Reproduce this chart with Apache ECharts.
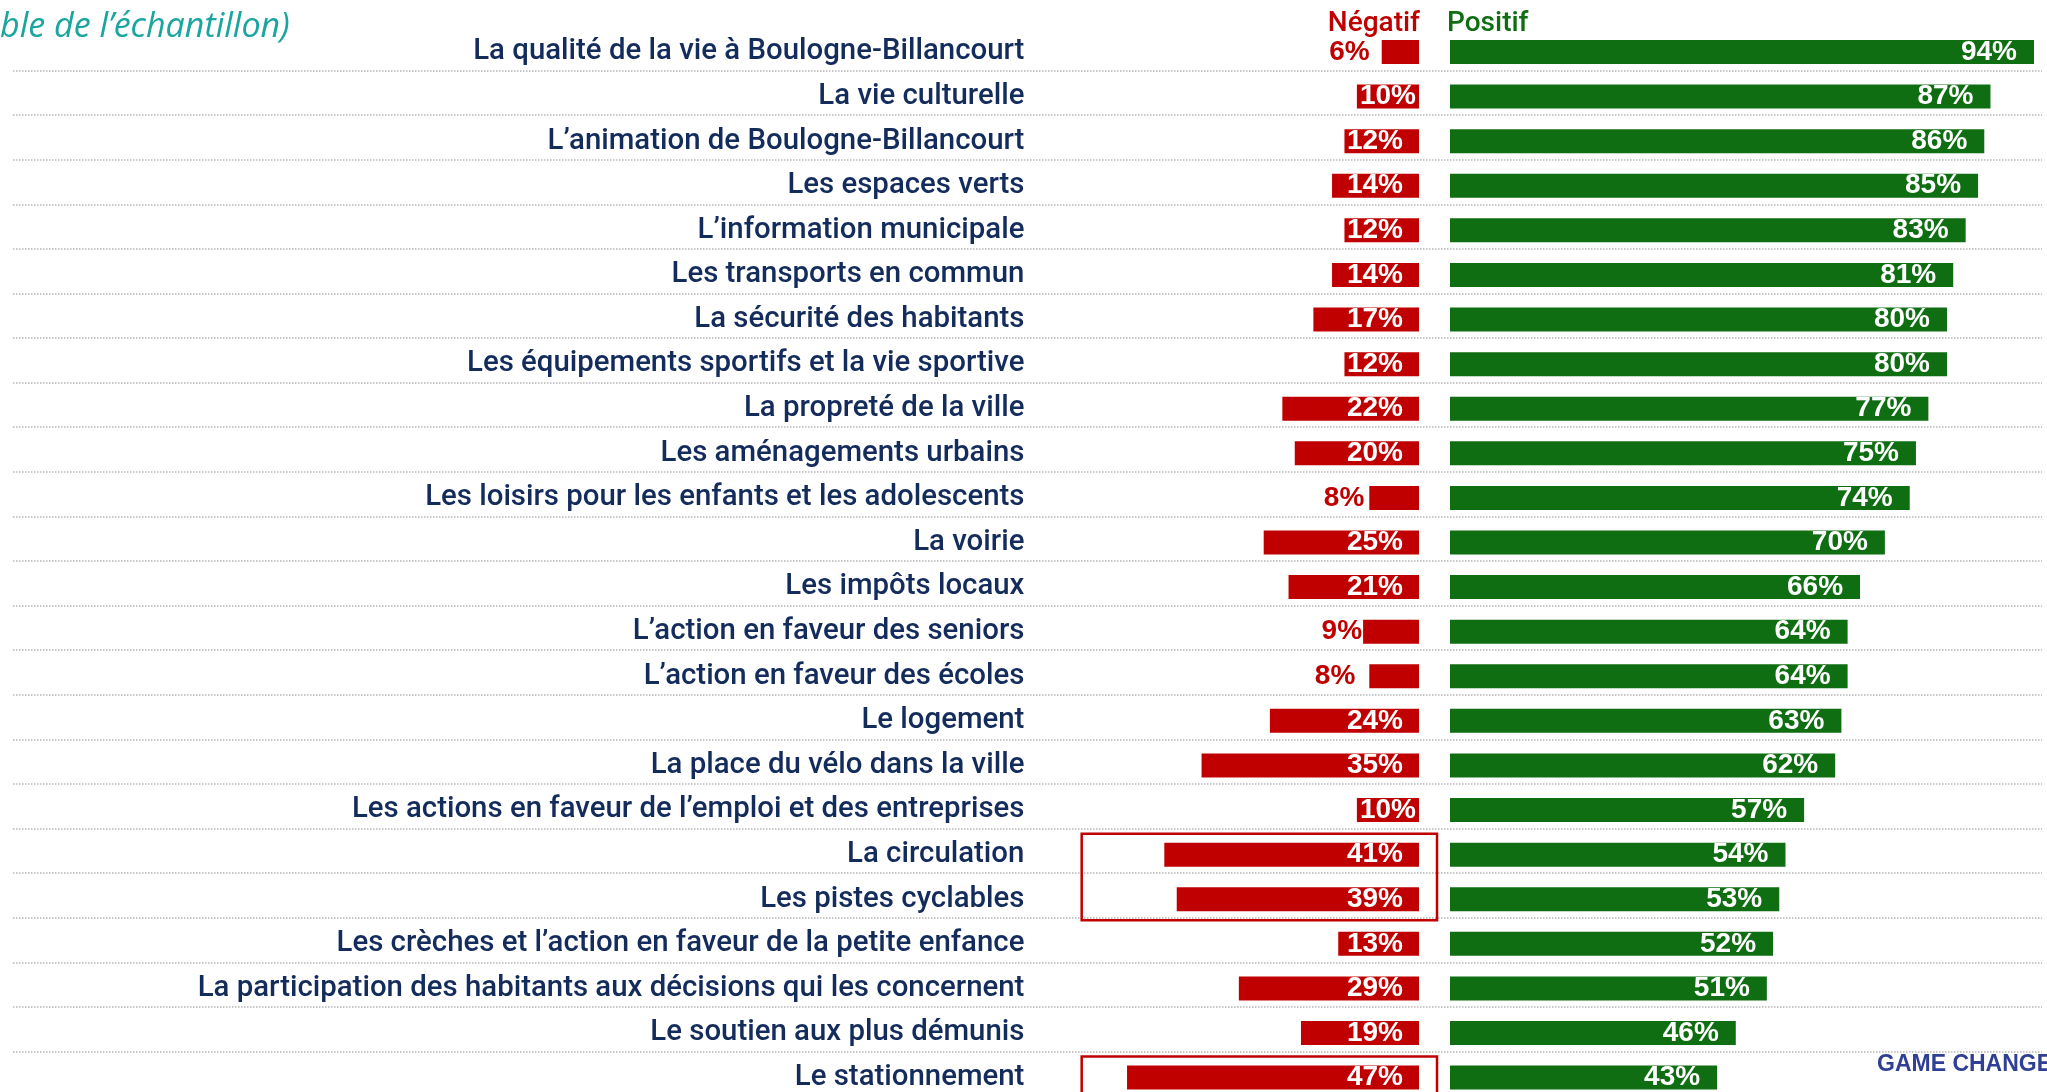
<!DOCTYPE html>
<html>
<head>
<meta charset="utf-8">
<script src="https://cdn.jsdelivr.net/npm/echarts@6/dist/echarts.min.js"></script>
<style>
    html, body {margin: 0; padding: 0; background: #fff;}
    #chart {width: 2047px; height: 1092px;}
</style>
</head>
<body>
<div id="chart"></div>
<script>
    // libellés des items
    var categories = [
        'La qualité de la vie à Boulogne-Billancourt',
        'La vie culturelle',
        'L’animation de Boulogne-Billancourt',
        'Les espaces verts',
        'L’information municipale',
        'Les transports en commun',
        'La sécurité des habitants',
        'Les équipements sportifs et la vie sportive',
        'La propreté de la ville',
        'Les aménagements urbains',
        'Les loisirs pour les enfants et les adolescents',
        'La voirie',
        'Les impôts locaux',
        'L’action en faveur des seniors',
        'L’action en faveur des écoles',
        'Le logement',
        'La place du vélo dans la ville',
        'Les actions en faveur de l’emploi et des entreprises',
        'La circulation',
        'Les pistes cyclables',
        'Les crèches et l’action en faveur de la petite enfance',
        'La participation des habitants aux décisions qui les concernent',
        'Le soutien aux plus démunis',
        'Le stationnement'
    ];
    var negatif = [6, 10, 12, 14, 12, 14, 17, 12, 22, 20, 8, 25, 21, 9, 8, 24, 35, 10, 41, 39, 13, 29, 19, 47];
    var positif = [94, 87, 86, 85, 83, 81, 80, 80, 77, 75, 74, 70, 66, 64, 64, 63, 62, 57, 54, 53, 52, 51, 46, 43];
    // items encadrés en rouge
    var highlights = [
        ['La circulation', 'Les pistes cyclables'],
        ['Le stationnement', 'Le stationnement']
    ];

    var RED = '#c00000';
    var GREEN = '#0f6d12';
    var NAVY = '#142c5c';
    var TOP = 29.7, HEIGHT = 1070.2;
    // écart des étiquettes placées hors barre (par index de ligne)
    var outsideGap = {0: 12, 10: 5, 13: 1, 14: 14};

    var labelFont = {fontFamily: 'Liberation Sans, Arial, sans-serif', fontWeight: 'bold', fontSize: 28};

    var negData = negatif.map(function (v, i) {
        if (v < 10) {
            return {value: v, label: {position: 'left', distance: outsideGap[i] || 8, color: RED}};
        }
        if (v < 12) {
            return {value: v, label: {distance: 3}};
        }
        return v;
    });

    var chart = echarts.init(document.getElementById('chart'));
    var option = {
        backgroundColor: '#fff',
        animation: false,
        title: [{
            text: 'ble de l’échantillon)',
            left: 0,
            top: 10,
            padding: 0,
            textStyle: {fontFamily: 'Open Sans, sans-serif', fontStyle: 'italic', fontWeight: 'normal', fontSize: 34, color: '#1aa59f'}
        }, {
            text: 'GAME CHANGERS',
            left: 1877,
            top: 1053,
            padding: 0,
            textStyle: {fontFamily: 'Liberation Sans, Arial, sans-serif', fontWeight: 'bold', fontSize: 23, color: '#2f3f94'}
        }],
        legend: [{
            data: ['Négatif'],
            right: 627,
            top: 10,
            padding: 0,
            icon: 'none',
            itemWidth: 0,
            itemHeight: 28,
            selectedMode: false,
            textStyle: {fontFamily: 'Roboto, sans-serif', fontWeight: 500, fontSize: 28, color: RED}
        }, {
            data: ['Positif'],
            left: 1442,
            top: 10,
            padding: 0,
            icon: 'none',
            itemWidth: 0,
            itemHeight: 28,
            selectedMode: false,
            textStyle: {fontFamily: 'Roboto, sans-serif', fontWeight: 500, fontSize: 28, color: GREEN}
        }],
        grid: [
            {left: 1108.4, right: 628, top: TOP, height: HEIGHT, outerBoundsMode: 'none'},
            {left: 1450, right: 6.8, top: TOP, height: HEIGHT, outerBoundsMode: 'none'},
            {left: 13, right: 5, top: TOP - 3.8, height: HEIGHT, outerBoundsMode: 'none'}
        ],
        xAxis: [
            {gridIndex: 0, type: 'value', min: 0, max: 50, inverse: true, show: false},
            {gridIndex: 1, type: 'value', min: 0, max: 95, show: false},
            {gridIndex: 2, type: 'value', min: 0, max: 1, show: false}
        ],
        yAxis: [{
            gridIndex: 0,
            type: 'category',
            data: categories,
            inverse: true,
            axisLine: {show: false},
            axisTick: {show: false},
            splitLine: {show: false},
            axisLabel: {margin: 84, padding: [8, 0, 0, 0], fontFamily: 'Roboto, sans-serif', fontWeight: 500, fontSize: 29.4, color: NAVY}
        }, {
            gridIndex: 1,
            type: 'category',
            data: categories,
            inverse: true,
            show: false
        }, {
            gridIndex: 2,
            type: 'category',
            data: categories,
            inverse: true,
            axisLine: {show: false},
            axisTick: {show: false},
            axisLabel: {show: false},
            splitLine: {
                show: true,
                showMinLine: false,
                lineStyle: {type: 'dotted', color: '#b5b5b5', width: 1.5}
            }
        }],
        series: [{
            name: 'Négatif',
            type: 'bar',
            xAxisIndex: 0,
            yAxisIndex: 0,
            data: negData,
            barWidth: 24,
            itemStyle: {color: RED},
            label: Object.assign({
                show: true,
                position: 'insideRight',
                distance: 16,
                color: '#fff',
                formatter: '{c}%'
            }, labelFont)
        }, {
            name: 'Positif',
            type: 'bar',
            xAxisIndex: 1,
            yAxisIndex: 1,
            data: positif,
            barWidth: 24,
            itemStyle: {color: GREEN},
            label: Object.assign({
                show: true,
                position: 'insideRight',
                distance: 17,
                color: '#fff',
                formatter: '{c}%'
            }, labelFont)
        }]
    };
    chart.setOption(option);

    // cadres rouges autour des items mis en avant
    var boxes = highlights.map(function (h) {
        var p1 = chart.convertToPixel({gridIndex: 0}, [54.3, h[0]]);
        var p2 = chart.convertToPixel({gridIndex: 0}, [-2.9, h[1]]);
        return {
            type: 'rect',
            shape: {x: p1[0], y: p1[1] - 21, width: p2[0] - p1[0], height: p2[1] - p1[1] + 42},
            style: {fill: 'none', stroke: RED, lineWidth: 2.5},
            z: 10
        };
    });
    chart.setOption({graphic: boxes});
</script>
</body>
</html>
